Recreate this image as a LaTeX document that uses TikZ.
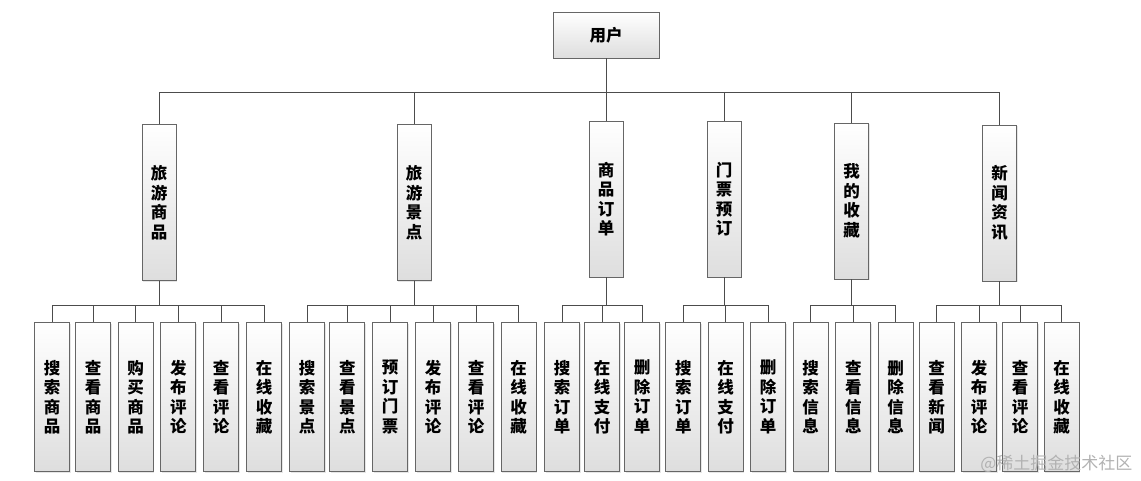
\documentclass[tikz,border=0pt]{standalone}
\usepackage{fontspec}
\setmainfont{Noto Sans CJK SC}
\usetikzlibrary{shadows}

\begin{document}
\begin{tikzpicture}[x=1pt,y=-1pt,
    box/.style={draw=black!60,line width=0.8pt,top color=white,bottom color=black!13,
      drop shadow={shadow xshift=1.2pt,shadow yshift=-1.2pt,opacity=0.2},
      inner sep=0pt,align=center,font=\fontsize{16.5}{19.5}\selectfont\bfseries},
    mid/.style={box,minimum width=34pt,minimum height=156pt},
    leaf/.style={box,minimum width=35pt,minimum height=149pt},
    link/.style={draw=black!70,line width=0.8pt}]
    \useasboundingbox (0,0) rectangle (1141,480);
    \coordinate (bus) at (0,92);
    \coordinate (lbus) at (0,305);

    \node[box,minimum width=106pt,minimum height=46pt] (user) at (606,35) {用户};

    \node[mid] (goods) at (159,202.5) {旅\\游\\商\\品};
    \node[mid] (spots) at (414,202.5) {旅\\游\\景\\点};
    \node[mid] (orders) at (606,199) {商\\品\\订\\单};
    \node[mid] (tickets) at (724,199) {门\\票\\预\\订};
    \node[mid] (favs) at (851.5,201) {我\\的\\收\\藏};
    \node[mid] (news) at (999.5,203) {新\\闻\\资\\讯};

    \draw[link] (user.south) -- (user.south |- bus) -| (goods.north);
    \draw[link] (user.south) -- (user.south |- bus) -| (spots.north);
    \draw[link] (user.south) -- (orders.north);
    \draw[link] (user.south) -- (user.south |- bus) -| (tickets.north);
    \draw[link] (user.south) -- (user.south |- bus) -| (favs.north);
    \draw[link] (user.south) -- (user.south |- bus) -| (news.north);

    % travel goods
    \node[leaf] (goods1) at (52,397) {搜\\索\\商\\品};
    \node[leaf] (goods2) at (93,397) {查\\看\\商\\品};
    \node[leaf] (goods3) at (135.5,397) {购\\买\\商\\品};
    \node[leaf] (goods4) at (178.3,397) {发\\布\\评\\论};
    \node[leaf] (goods5) at (221,397) {查\\看\\评\\论};
    \node[leaf] (goods6) at (264,397) {在\\线\\收\\藏};
    \draw[link] (goods.south) -- (goods.south |- lbus) -| (goods1.north);
    \draw[link] (goods.south) -- (goods.south |- lbus) -| (goods2.north);
    \draw[link] (goods.south) -- (goods.south |- lbus) -| (goods3.north);
    \draw[link] (goods.south) -- (goods.south |- lbus) -| (goods4.north);
    \draw[link] (goods.south) -- (goods.south |- lbus) -| (goods5.north);
    \draw[link] (goods.south) -- (goods.south |- lbus) -| (goods6.north);

    % scenic spots
    \node[leaf] (spots1) at (307,397) {搜\\索\\景\\点};
    \node[leaf] (spots2) at (347.3,397) {查\\看\\景\\点};
    \node[leaf] (spots3) at (390,397) {预\\订\\门\\票};
    \node[leaf] (spots4) at (433,397) {发\\布\\评\\论};
    \node[leaf] (spots5) at (476.2,397) {查\\看\\评\\论};
    \node[leaf] (spots6) at (518.7,397) {在\\线\\收\\藏};
    \draw[link] (spots.south) -- (spots.south |- lbus) -| (spots1.north);
    \draw[link] (spots.south) -- (spots.south |- lbus) -| (spots2.north);
    \draw[link] (spots.south) -- (spots.south |- lbus) -| (spots3.north);
    \draw[link] (spots.south) -- (spots.south |- lbus) -| (spots4.north);
    \draw[link] (spots.south) -- (spots.south |- lbus) -| (spots5.north);
    \draw[link] (spots.south) -- (spots.south |- lbus) -| (spots6.north);

    % goods orders
    \node[leaf] (orders1) at (562,397) {搜\\索\\订\\单};
    \node[leaf] (orders2) at (602,397) {在\\线\\支\\付};
    \node[leaf] (orders3) at (642,397) {删\\除\\订\\单};
    \draw[link] (orders.south) -- (orders.south |- lbus) -| (orders1.north);
    \draw[link] (orders.south) -- (orders.south |- lbus) -| (orders2.north);
    \draw[link] (orders.south) -- (orders.south |- lbus) -| (orders3.north);

    % ticket booking
    \node[leaf] (tickets1) at (683.3,397) {搜\\索\\订\\单};
    \node[leaf] (tickets2) at (725.5,397) {在\\线\\支\\付};
    \node[leaf] (tickets3) at (768,397) {删\\除\\订\\单};
    \draw[link] (tickets.south) -- (tickets.south |- lbus) -| (tickets1.north);
    \draw[link] (tickets.south) -- (tickets.south |- lbus) -| (tickets2.north);
    \draw[link] (tickets.south) -- (tickets.south |- lbus) -| (tickets3.north);

    % favourites
    \node[leaf] (favs1) at (810.5,397) {搜\\索\\信\\息};
    \node[leaf] (favs2) at (853.3,397) {查\\看\\信\\息};
    \node[leaf] (favs3) at (895.7,397) {删\\除\\信\\息};
    \draw[link] (favs.south) -- (favs.south |- lbus) -| (favs1.north);
    \draw[link] (favs.south) -- (favs.south |- lbus) -| (favs2.north);
    \draw[link] (favs.south) -- (favs.south |- lbus) -| (favs3.north);

    % news
    \node[leaf] (news1) at (936.6,397) {查\\看\\新\\闻};
    \node[leaf] (news2) at (979,397) {发\\布\\评\\论};
    \node[leaf] (news3) at (1020.2,397) {查\\看\\评\\论};
    \node[leaf] (news4) at (1061.7,397) {在\\线\\收\\藏};
    \draw[link] (news.south) -- (news.south |- lbus) -| (news1.north);
    \draw[link] (news.south) -- (news.south |- lbus) -| (news2.north);
    \draw[link] (news.south) -- (news.south |- lbus) -| (news3.north);
    \draw[link] (news.south) -- (news.south |- lbus) -| (news4.north);

    \node[anchor=east,text=black!30,font=\fontsize{17}{17}\selectfont] (mark) at (1136,464) {@稀土掘金技术社区};
  \end{tikzpicture}
\end{document}
